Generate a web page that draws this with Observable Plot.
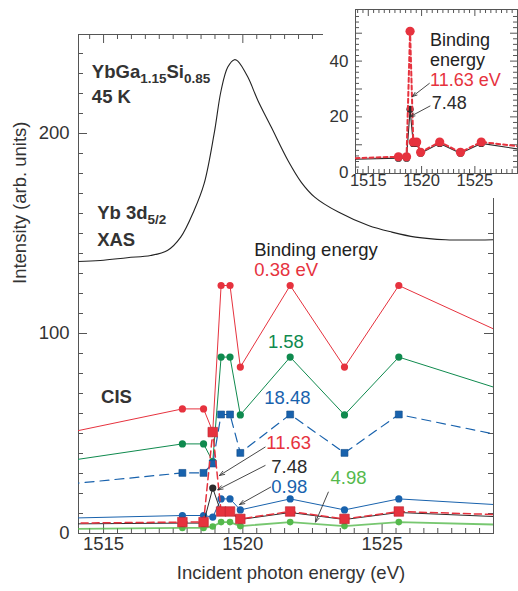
<!DOCTYPE html>
<html><head><meta charset="utf-8">
<script src="https://cdn.jsdelivr.net/npm/d3@7"></script>
<script src="https://cdn.jsdelivr.net/npm/@observablehq/plot@0.6"></script>
<style>
body{margin:0;background:#fff;}
#wrap{position:relative;width:518px;height:591px;overflow:hidden;}
#inset{position:absolute;left:323px;top:0;width:195px;height:198px;background:#fff;}
</style></head><body><div id="wrap"><div id="main"></div><div id="inset"></div></div>
<script>
// ---------- data ----------
// photon energies (eV); first and last entries are where lines meet the frame
const energy = [1513.8, 1517.83, 1518.59, 1518.92, 1519.22, 1519.54, 1519.91, 1521.70, 1523.65, 1525.60, 1529.0];
const cis038  = [50.6, 62.3, 62.3, 51.0, 124, 124, 83.2, 124, 83.2, 124, 102.3];
const cis158  = [36.5, 44.8, 44.8, 36.0, 88.2, 88.2, 59.3, 88.2, 59.3, 88.2, 73.2];
const cis1848 = [24.8, 30.3, 30.3, 35.0, 59.5, 59.5, 40.3, 59.5, 40.3, 59.5, 49.8];
const cis098  = [7.7, 9.0, 9.0, 8.2, 17.3, 17.3, 11.8, 17.3, 11.8, 17.3, 14.5];
const cis748  = [4.8, 5.2, 5.2, 22.7, 10.5, 10.5, 7.0, 10.5, 7.0, 10.5, 8.5];
const cis1163 = [5.2, 5.7, 5.7, 50.7, 11.0, 11.0, 7.3, 11.0, 7.3, 11.0, 9.5];
const cis498  = [2.3, 2.8, 2.8, 3.5, 5.7, 5.7, 3.7, 5.7, 3.7, 5.7, 4.5];

const xasEnergy = [1513.8, 1514.88, 1515.85, 1516.69, 1517.29, 1517.77, 1518.25, 1518.61, 1518.97, 1519.22, 1519.46, 1519.70, 1519.82, 1520.18, 1520.54, 1521.02, 1521.62, 1522.10, 1522.58, 1523.43, 1524.51, 1525.35, 1526.20, 1527.28, 1529.0];
const xasIntensity = [135.9, 136.5, 137.9, 139.0, 141.5, 148.2, 161.5, 174.9, 199.9, 221.5, 233.2, 236.9, 236.2, 228.2, 216.5, 203.2, 186.5, 175.6, 168.2, 160.7, 154.0, 150.7, 148.2, 146.9, 146.9];

const xTickLabels = [1515, 1520, 1525];
const yTickLabels = [0, 100, 200];
const insetYTickLabels = [0, 20, 40];

// ---------- styles ----------
const RED = "#e6323e", RED_EDGE = "#b8232d", DKGREEN = "#0f8a4e", BLUE = "#1862ad", BLUE_EDGE = "#0e4a88", LTGREEN = "#55b94c", INK = "#333";
const FONT = "'Liberation Sans', Arial, sans-serif";

const series = [
  {key: "4.98",  values: cis498,  color: LTGREEN, edgeColor: "none", symbol: "circle", r: 3.3, width: 1.8, dash: null, opacity: 0.8},
  {key: "0.38",  values: cis038,  color: RED,     edgeColor: "none", symbol: "circle", r: 3.6, width: 1,   dash: null, opacity: 1},
  {key: "1.58",  values: cis158,  color: DKGREEN, edgeColor: "none", symbol: "circle", r: 3.6, width: 1,   dash: null, opacity: 1},
  {key: "18.48", values: cis1848, color: BLUE,    edgeColor: BLUE_EDGE, symbol: "square", r: 3.9, width: 1.2, dash: "9,6", opacity: 1},
  {key: "0.98",  values: cis098,  color: BLUE,    edgeColor: "none", symbol: "circle", r: 3.6, width: 1,   dash: null, opacity: 1},
  {key: "7.48",  values: cis748,  color: "#2b2b2b", edgeColor: "none", symbol: "circle", r: 3.6, width: 1, dash: null, opacity: 1},
  {key: "11.63", values: cis1163, color: RED,     edgeColor: RED_EDGE, symbol: "square", r: 5.4, width: 1.5, dash: "7,4", opacity: 1}
];
const rowsOf = s => energy.map((e, i) => ({e, v: s.values[i], edge: i === 0 || i === energy.length - 1}));

const mainLabels = [
  {t: "Binding energy", e: 1520.41, v: 141.5, c: "#222"},
  {t: "0.38 eV", e: 1520.41, v: 131.5, c: RED},
  {t: "1.58", e: 1520.90, v: 95.5, c: DKGREEN},
  {t: "18.48", e: 1520.77, v: 67.5, c: BLUE},
  {t: "11.63", e: 1520.84, v: 45, c: RED},
  {t: "7.48", e: 1521.02, v: 33, c: "#2b2b2b"},
  {t: "0.98", e: 1521.02, v: 23, c: BLUE},
  {t: "4.98", e: 1523.15, v: 27.5, c: LTGREEN}
];
const boldLabels = [
  {parts: [["YbGa", 0], ["1.15", 1], ["Si", 0], ["0.85", 1]], e: 1514.58, v: 230.5},
  {parts: [["45 K", 0]], e: 1514.58, v: 218},
  {parts: [["Yb 3d", 0], ["5/2", 1]], e: 1514.77, v: 160},
  {parts: [["XAS", 0]], e: 1514.77, v: 146.5},
  {parts: [["CIS", 0]], e: 1514.91, v: 68}
];
const mainArrows = [
  {x1: 1520.80, y1: 43.2, x2: 1519.16, y2: 29.0},
  {x1: 1520.80, y1: 34.0, x2: 1519.10, y2: 21.9},
  {x1: 1521.00, y1: 23.2, x2: 1519.88, y2: 14.5},
  {x1: 1523.07, y1: 20.7, x2: 1522.61, y2: 5.7}
];

// ---------- main chart ----------
const W = 518, H = 591, mT = 34, mB = 58, mL = 78, mR = 25;
const innerH = H - mT - mB, innerW = W - mL - mR;
const xMinor = d3.range(1514.5, 1529.01, 0.5).filter(d => d % 5 !== 0);
const yMinor = d3.range(10, 250, 10).filter(d => d % 100 !== 0);

const marks = [
  Plot.tickX(xMinor, {x: d => d, insetTop: innerH - 5, stroke: "#555"}),
  Plot.tickX(xMinor, {x: d => d, insetBottom: innerH - 5, stroke: "#555"}),
  Plot.tickX(xTickLabels, {x: d => d, insetTop: innerH - 9, stroke: "#555"}),
  Plot.tickX(xTickLabels, {x: d => d, insetBottom: innerH - 9, stroke: "#555"}),
  Plot.tickY(yMinor, {y: d => d, insetRight: innerW - 5, stroke: "#555"}),
  Plot.tickY(yMinor, {y: d => d, insetLeft: innerW - 5, stroke: "#555"}),
  Plot.tickY(yTickLabels, {y: d => d, insetRight: innerW - 9, stroke: "#555"}),
  Plot.tickY(yTickLabels, {y: d => d, insetLeft: innerW - 9, stroke: "#555"}),
  Plot.frame({stroke: "#555"}),
  Plot.text(xTickLabels, {x: d => d, text: d => String(d), frameAnchor: "bottom", dy: 16, fontSize: 18.5, fill: INK}),
  Plot.text(yTickLabels, {y: d => d, text: d => String(d), frameAnchor: "left", dx: -9, textAnchor: "end", fontSize: 18.5, fill: INK}),
  Plot.text(["Incident photon energy (eV)"], {frameAnchor: "bottom", dy: 45, dx: 5, fontSize: 18.5, fill: INK}),
  Plot.text(["Intensity (arb. units)"], {frameAnchor: "left", dx: -58, rotate: -90, fontSize: 18.5, fill: INK}),
  Plot.line(xasEnergy.map((e, i) => ({e, v: xasIntensity[i]})), {x: "e", y: "v", curve: "catmull-rom", stroke: "#222", strokeWidth: 1.1, clip: true})
];
for (const s of series) {
  const rows = rowsOf(s);
  marks.push(Plot.line(rows, {x: "e", y: "v", stroke: s.color, strokeWidth: s.width, strokeDasharray: s.dash, strokeOpacity: s.opacity, clip: true}));
  marks.push(Plot.dot(rows.filter(d => !d.edge), {x: "e", y: "v", r: s.r, symbol: s.symbol, fill: s.color, stroke: s.edgeColor, strokeWidth: 0.6}));
}
marks.push(
  Plot.arrow(mainArrows, {x1: "x1", y1: "y1", x2: "x2", y2: "y2", stroke: "#333", strokeWidth: 0.9, headLength: 9, headAngle: 40}),
  Plot.text(mainLabels, {x: "e", y: "v", text: "t", fill: "c", textAnchor: "start", fontSize: 18.5}),
  Plot.text(boldLabels, {x: "e", y: "v", text: d => d.parts.map(p => p[0]).join(""), textAnchor: "start", fontSize: 18.5, fontWeight: "bold", fill: INK})
);

const main = Plot.plot({
  width: W, height: H, marginTop: mT, marginBottom: mB, marginLeft: mL, marginRight: mR,
  x: {domain: [1514.1, 1529.0], axis: null},
  y: {domain: [0, 249.5], axis: null},
  style: {fontFamily: FONT, fontSize: "18px", color: INK, background: "transparent", overflow: "visible"},
  marks
});
document.getElementById("main").appendChild(main);

// subscripts
for (const lab of boldLabels) {
  if (lab.parts.length < 2) continue;
  const full = lab.parts.map(p => p[0]).join("");
  d3.select(main).selectAll("text").filter(function () { return this.textContent === full; })
    .each(function () {
      const t = d3.select(this);
      t.text(null);
      let down = false;
      for (const [str, sub] of lab.parts) {
        const ts = t.append("tspan").text(str);
        if (sub) { ts.attr("font-size", 13.5); if (!down) { ts.attr("dy", 5); down = true; } }
        else if (down) { ts.attr("dy", -5); down = false; }
      }
    });
}

// ---------- inset ----------
const insetSeries = [
  {key: "7.48",  values: cis748,  color: "#2b2b2b", r: 3.6, width: 1.1, dash: null},
  {key: "11.63", values: cis1163, color: RED, r: 4.6, width: 2, dash: "4,3"}
];
const insetLabels = [
  {t: "Binding", e: 1520.79, v: 47.5, c: "#222"},
  {t: "energy", e: 1520.79, v: 40.4, c: "#222"},
  {t: "11.63 eV", e: 1520.79, v: 33.2, c: RED},
  {t: "7.48", e: 1520.95, v: 24.9, c: "#2b2b2b"}
];
const insetArrows = [
  {x1: 1520.73, y1: 32.0, x2: 1519.14, y2: 27.3},
  {x1: 1520.79, y1: 23.9, x2: 1518.93, y2: 20.1}
];
const iW = 195, iH = 198, imT = 9, imB = 25, imL = 32, imR = 1;
const iInnerH = iH - imT - imB, iInnerW = iW - imL - imR;
const ixMinor = d3.range(1514, 1529.01, 0.5).filter(d => d % 5 !== 0);
const iyMinor = d3.range(2, 58, 2).filter(d => d % 10 !== 0);
const iyMajor = d3.range(10, 58, 10);
const iMarks = [
  Plot.tickX(ixMinor, {x: d => d, insetTop: iInnerH - 4, stroke: "#555"}),
  Plot.tickX(ixMinor, {x: d => d, insetBottom: iInnerH - 4, stroke: "#555"}),
  Plot.tickX(xTickLabels, {x: d => d, insetTop: iInnerH - 7, stroke: "#555"}),
  Plot.tickX(xTickLabels, {x: d => d, insetBottom: iInnerH - 7, stroke: "#555"}),
  Plot.tickY(iyMinor, {y: d => d, insetRight: iInnerW - 4, stroke: "#555"}),
  Plot.tickY(iyMinor, {y: d => d, insetLeft: iInnerW - 4, stroke: "#555"}),
  Plot.tickY(iyMajor, {y: d => d, insetRight: iInnerW - 7, stroke: "#555"}),
  Plot.tickY(iyMajor, {y: d => d, insetLeft: iInnerW - 7, stroke: "#555"}),
  Plot.frame({stroke: "#555"}),
  Plot.text(xTickLabels, {x: d => d, text: d => String(d), frameAnchor: "bottom", dy: 12, fontSize: 16.5, fill: INK}),
  Plot.text(insetYTickLabels, {y: d => d, text: d => String(d), frameAnchor: "left", dx: -7, textAnchor: "end", fontSize: 17, fill: INK})
];
for (const s of insetSeries) {
  const rows = rowsOf(s);
  iMarks.push(Plot.line(rows, {x: "e", y: "v", stroke: s.color, strokeWidth: s.width, strokeDasharray: s.dash, clip: true}));
  iMarks.push(Plot.dot(rows.filter(d => !d.edge), {x: "e", y: "v", r: s.r, fill: s.color}));
}
iMarks.push(
  Plot.arrow(insetArrows, {x1: "x1", y1: "y1", x2: "x2", y2: "y2", stroke: "#333", strokeWidth: 0.9, headLength: 8, headAngle: 40}),
  Plot.text(insetLabels, {x: "e", y: "v", text: "t", fill: "c", textAnchor: "start", fontSize: 18})
);
const inset = Plot.plot({
  width: iW, height: iH, marginTop: imT, marginBottom: imB, marginLeft: imL, marginRight: imR,
  x: {domain: [1513.8, 1529.0], axis: null},
  y: {domain: [-0.3, 58.5], axis: null},
  style: {fontFamily: FONT, fontSize: "17px", color: INK, background: "#fff", overflow: "visible"},
  marks: iMarks
});
document.getElementById("inset").appendChild(inset);
</script></body></html>
